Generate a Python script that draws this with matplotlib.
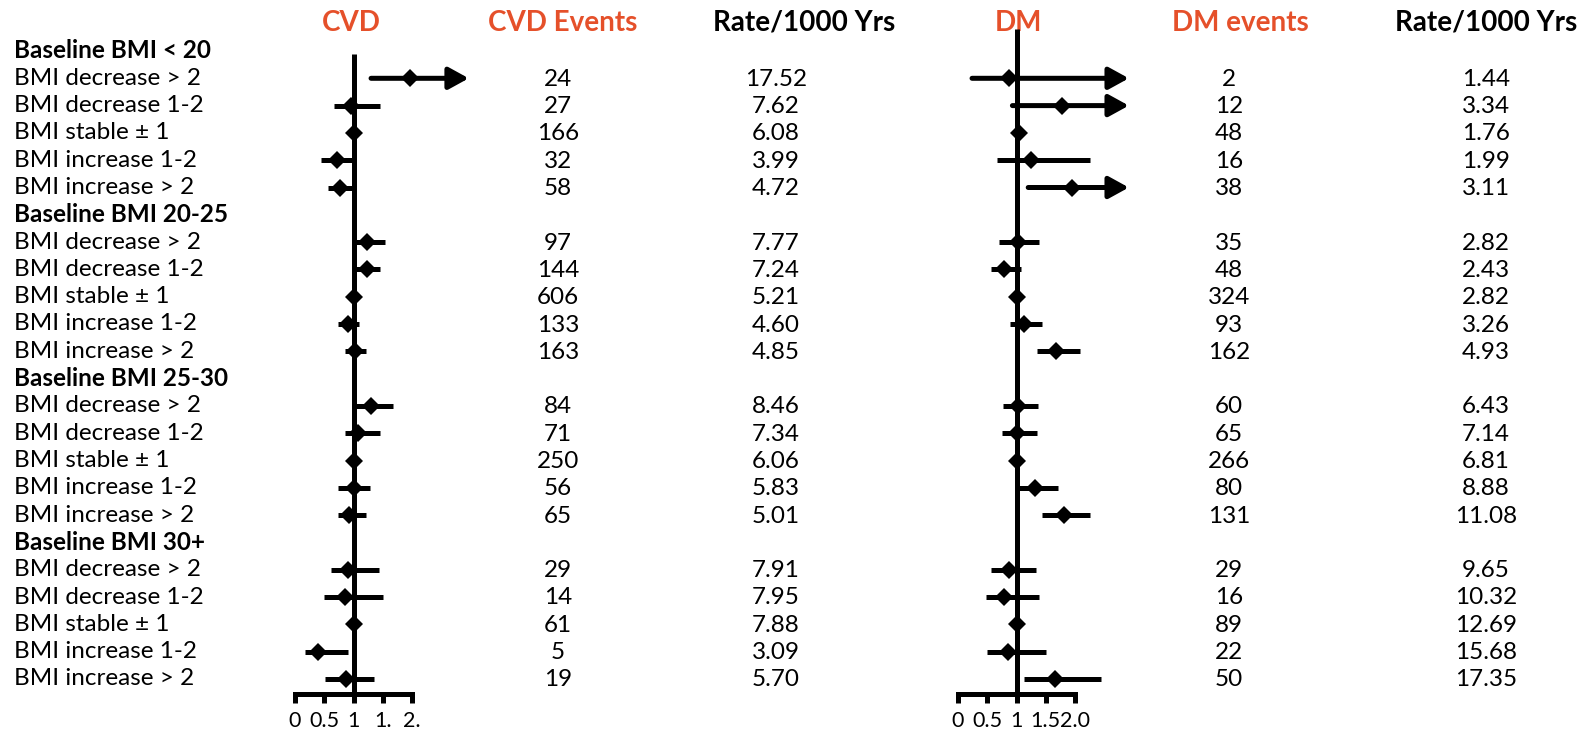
import numpy as np
import matplotlib
matplotlib.use('Agg')
import matplotlib.pyplot as plt

plt.rcParams['font.family'] = ['Lato', 'DejaVu Sans']

ORANGE = '#E5502A'
W, H = 1596, 738

groups = ['Baseline BMI < 20', 'Baseline BMI 20-25', 'Baseline BMI 25-30', 'Baseline BMI 30+']
changes = ['BMI decrease > 2', 'BMI decrease 1-2', 'BMI stable \u00b1 1',
           'BMI increase 1-2', 'BMI increase > 2']

# hazard ratio, lower and upper CI per row (groups in order, 5 rows each); inf = off scale
cvd_hr = [1.96, 0.95, 1.01, 0.71, 0.77,
          1.23, 1.23, 1.01, 0.90, 1.03,
          1.30, 1.07, 1.01, 1.00, 0.92,
          0.91, 0.86, 1.00, 0.40, 0.87]
cvd_lo = [1.30, 0.66, 0.92, 0.44, 0.57,
          1.00, 1.00, 0.94, 0.73, 0.85,
          1.00, 0.85, 0.94, 0.74, 0.73,
          0.61, 0.50, 0.94, 0.17, 0.51]
cvd_hi = [np.inf, 1.45, 1.08, 0.98, 0.98,
          1.53, 1.45, 1.08, 1.09, 1.21,
          1.68, 1.45, 1.08, 1.28, 1.21,
          1.44, 1.50, 1.06, 0.90, 1.35]
cvd_events = [24, 27, 166, 32, 58, 97, 144, 606, 133, 163,
              84, 71, 250, 56, 65, 29, 14, 61, 5, 19]
cvd_rate = ['17.52', '7.62', '6.08', '3.99', '4.72',
            '7.77', '7.24', '5.21', '4.60', '4.85',
            '8.46', '7.34', '6.06', '5.83', '5.01',
            '7.91', '7.95', '7.88', '3.09', '5.70']

dm_hr = [0.87, 1.78, 1.04, 1.24, 1.95,
         1.02, 0.78, 1.01, 1.12, 1.68,
         1.02, 1.00, 1.01, 1.31, 1.81,
         0.87, 0.78, 1.01, 0.85, 1.65]
dm_lo = [0.24, 0.93, 0.96, 0.67, 1.20,
         0.70, 0.56, 0.95, 0.89, 1.35,
         0.77, 0.75, 0.95, 1.03, 1.44,
         0.56, 0.48, 0.95, 0.50, 1.12]
dm_hi = [np.inf, np.inf, 1.10, 2.25, np.inf,
         1.38, 1.07, 1.07, 1.43, 2.08,
         1.37, 1.35, 1.07, 1.71, 2.25,
         1.34, 1.39, 1.07, 1.51, 2.44]
dm_events = [2, 12, 48, 16, 38, 35, 48, 324, 93, 162,
             60, 65, 266, 80, 131, 29, 16, 89, 22, 50]
dm_rate = ['1.44', '3.34', '1.76', '1.99', '3.11',
           '2.82', '2.43', '2.82', '3.26', '4.93',
           '6.43', '7.14', '6.81', '8.88', '11.08',
           '9.65', '10.32', '12.69', '15.68', '17.35']

cvd_ticklabels = ['0', '0.5', '1', '1.', '2.']
dm_ticklabels = ['0', '0.5', '1', '1.5', '2.0']

# row layout: each group has a bold header row then its 5 rows
ROW0, STEP = 51.0, 27.3
row_idx = []
labels = []
for g, name in enumerate(groups):
    labels.append((g * 6, name, True))
    for k, c in enumerate(changes):
        labels.append((g * 6 + 1 + k, c, False))
        row_idx.append(g * 6 + 1 + k)
row_idx = np.array(row_idx)

fig = plt.figure(figsize=(W / 100, H / 100), dpi=100)
ax0 = fig.add_axes([0, 0, 1, 1])
ax0.set_xlim(0, W)
ax0.set_ylim(H, 0)
ax0.axis('off')

FS = 17.5
HFS = 20
TFS = 15.5
for i, txt, bold in labels:
    ax0.text(14, ROW0 + i * STEP, txt, fontsize=FS, va='center', ha='left',
             fontweight='bold' if bold else 'normal')

headers = [(351, 'CVD', ORANGE), (563, 'CVD Events', ORANGE), (804, 'Rate/1000 Yrs', 'black'),
           (1018, 'DM', ORANGE), (1240, 'DM events', ORANGE), (1486, 'Rate/1000 Yrs', 'black')]
for x, txt, col in headers:
    ax0.text(x, 23, txt, fontsize=HFS, fontweight='bold', color=col, ha='center', va='center')

for x, col in [(558, cvd_events), (776, cvd_rate), (1229, dm_events), (1486, dm_rate)]:
    for i, v in zip(row_idx, col):
        ax0.text(x, ROW0 + i * STEP + 1, str(v), fontsize=FS, ha='center', va='center')

LW = 3.6
AX_TOP, AX_BOT = 29, 694


def forest(left_px, hr, lo, hi, ticklabels, cap, line_top):
    ax = fig.add_axes([left_px / W, (H - AX_BOT) / H, 117 / W, (AX_BOT - AX_TOP) / H])
    ax.set_xlim(0, 2)
    ax.set_ylim((AX_BOT - ROW0) / STEP, (AX_TOP - ROW0) / STEP)
    ax.set_facecolor('none')
    for s in ['top', 'left', 'right']:
        ax.spines[s].set_visible(False)
    ax.spines['bottom'].set_linewidth(LW)
    ax.set_yticks([])
    ax.set_xticks([0, 0.5, 1, 1.5, 2])
    ax.set_xticklabels(ticklabels, fontsize=TFS)
    ax.tick_params(axis='x', direction='out', length=6.5, width=LW, pad=6)
    ax.axvline(1, ymin=0, ymax=line_top, color='k', lw=LW, solid_capstyle='butt', clip_on=False)
    for y, h, l, u in zip(row_idx, hr, lo, hi):
        if np.isinf(u):
            ax.annotate('', xy=(cap, y), xytext=(l, y), annotation_clip=False,
                        arrowprops=dict(arrowstyle='-|>,head_length=0.6,head_width=0.33',
                                        mutation_scale=20, lw=LW, color='k',
                                        shrinkA=0, shrinkB=0))
        else:
            ax.plot([l, u], [y, y], color='k', lw=LW, solid_capstyle='butt', clip_on=False)
        ax.plot(h, y, marker='D', ms=9, color='k', mew=0, clip_on=False, zorder=5)
    return ax


forest(295, cvd_hr, cvd_lo, cvd_hi, cvd_ticklabels, 2.97, 0.962)
forest(958, dm_hr, dm_lo, dm_hi, dm_ticklabels, 2.92, 1.0)

fig.savefig('out.png', dpi=100)
